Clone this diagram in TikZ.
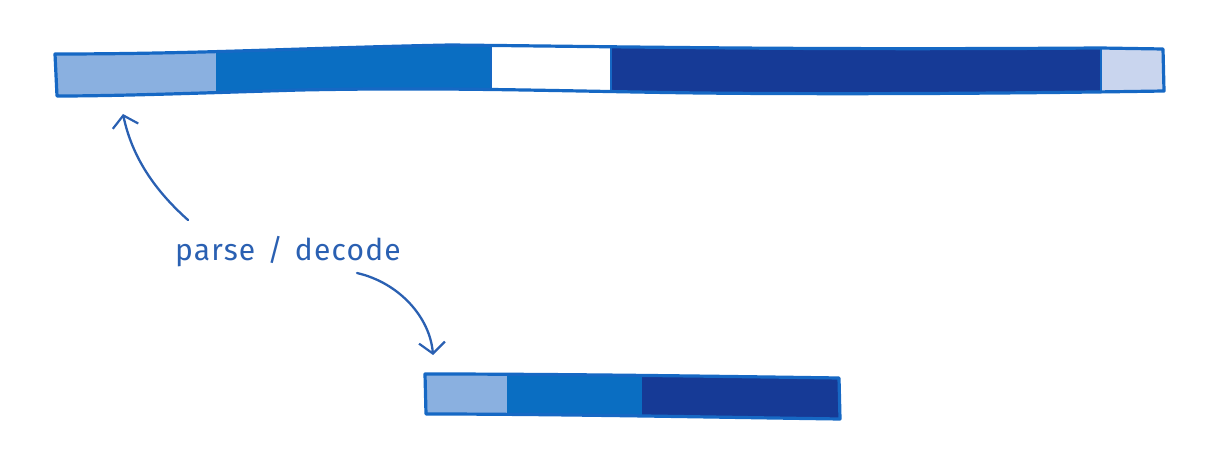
\documentclass[tikz,border=0pt]{standalone}
\usepackage{fontspec}
\setmainfont{Fira Sans}
\usetikzlibrary{arrows.meta}
\definecolor{bord}{RGB}{22,104,196}
\definecolor{segmed}{RGB}{10,110,194}
\definecolor{segdark}{RGB}{22,58,150}
\definecolor{seglight}{RGB}{138,176,224}
\definecolor{segpale}{RGB}{201,213,238}
\definecolor{ink}{RGB}{42,96,178}
\tikzset{
  outline/.style={draw=bord,line width=3.2pt,line join=round},
  divider/.style={draw=bord,line width=2pt},
  curvearrow/.style={draw=ink,line width=2.3pt,line cap=round,-{Straight Barb[length=11pt,width=26pt,line width=2.2pt]}},
  lbltext/.style={text=ink,font=\fontsize{30}{34}\selectfont,inner sep=0pt}
}
\begin{document}
\begin{tikzpicture}[x=1pt,y=-1pt]
\useasboundingbox (0,0) rectangle (1226,462);
% ---- top bar ----
\def\topbar{(55,54) .. controls (200,54) and (300,48) .. (450,45)
  .. controls (650,47) and (800,50) .. (1100,48) -- (1163,49)
  -- (1164,91) .. controls (1100,92) and (900,95) .. (700,93)
  .. controls (550,91) and (450,87) .. (300,90) .. controls (200,93) and (120,96) .. (57,96) -- cycle}
\begin{scope}
  \clip \topbar;
  \fill[segmed] (40,30) rectangle (1180,110);
  \fill[seglight] (40,30) rectangle (216,110);
  \fill[white] (491,30) rectangle (611,110);
  \fill[segdark] (612,30) rectangle (1100,110);
  \fill[segpale] (1101,30) rectangle (1180,110);
  \draw[divider] (491,30) -- (491,110);
  \draw[divider] (611,30) -- (611,110);
  \draw[divider] (1101,30) -- (1101,110);
\end{scope}
\draw[outline] \topbar;
% ---- bottom bar ----
\def\botbar{(425,374) .. controls (550,374) and (700,376) .. (839,378)
  -- (840,419) .. controls (700,417) and (550,414) .. (426,414) -- cycle}
\begin{scope}
  \clip \botbar;
  \fill[segmed] (410,360) rectangle (850,430);
  \fill[seglight] (410,360) rectangle (507,430);
  \fill[segdark] (642,360) rectangle (850,430);
\end{scope}
\draw[outline] \botbar;
% ---- label and arrows ----
\node[lbltext] (lbl) at (288,252) {\addfontfeature{LetterSpace=4}parse\hspace{12pt}/\hspace{12pt}decode};
\coordinate (a1s) at (188,220);
\coordinate (a1e) at (123,114);
\coordinate (a2s) at (357,273);
\coordinate (a2e) at (433,355);
\draw[curvearrow] (a1s) .. controls (160,195) and (133,162) .. (a1e);
\draw[curvearrow] (a2s) .. controls (400,283) and (430,318) .. (a2e);
\end{tikzpicture}
\end{document}
